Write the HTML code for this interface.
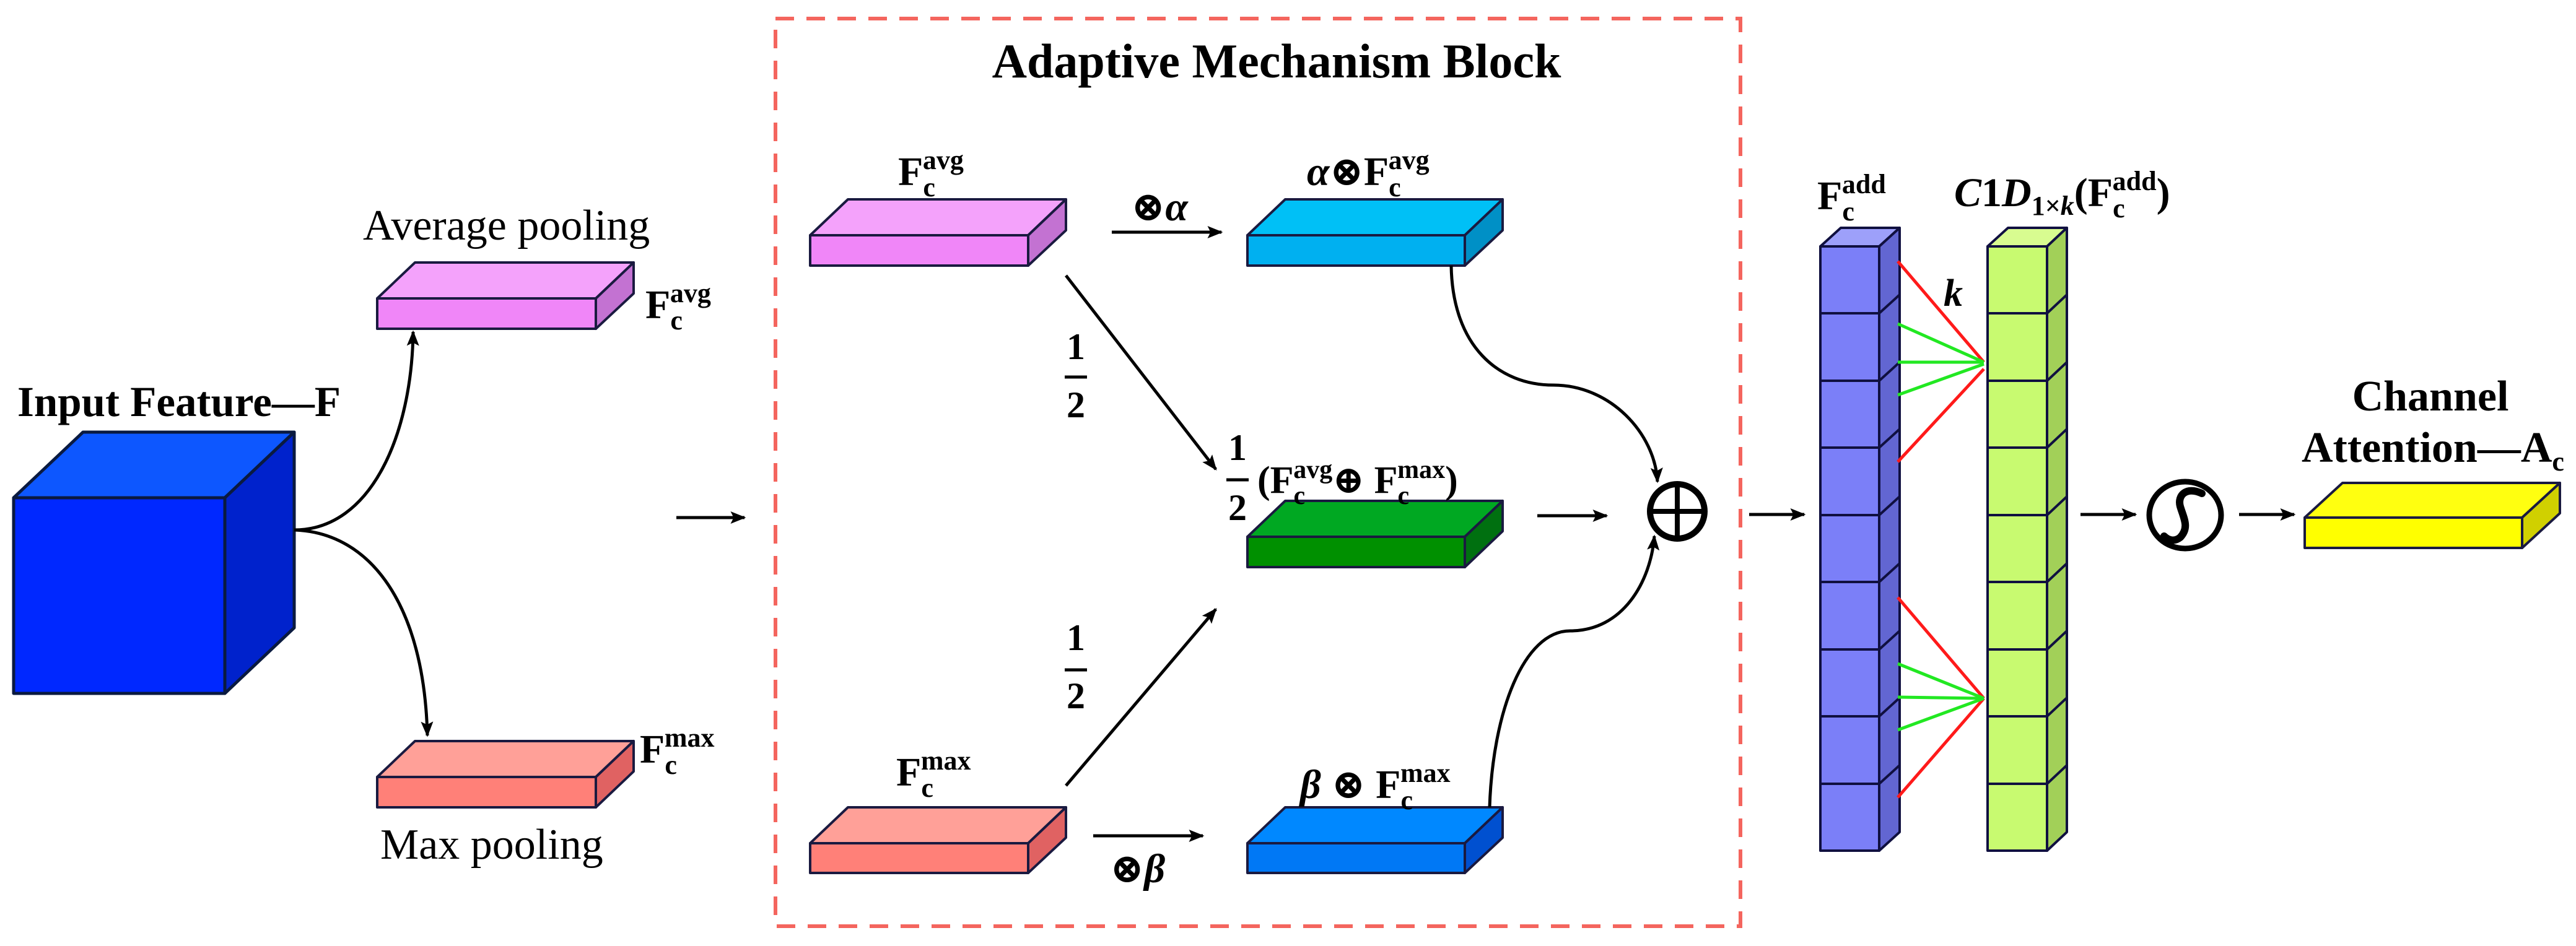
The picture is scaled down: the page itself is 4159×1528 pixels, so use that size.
<!DOCTYPE html>
<html><head><meta charset="utf-8"><style>
html,body{margin:0;padding:0;background:#fff;}
svg{display:block;}
text{font-family:"Liberation Serif","DejaVu Serif",serif;fill:#000;}
.b{font-weight:bold;}
</style></head><body>
<svg width="4159" height="1528" viewBox="0 0 4159 1528" xmlns="http://www.w3.org/2000/svg">
<defs>
<marker id="ah" viewBox="0 0 10 10" refX="9" refY="5" markerWidth="5" markerHeight="5" orient="auto" markerUnits="strokeWidth"><path d="M0,1 L10,5 L0,9 L2,5 z" fill="#000"/></marker>
</defs>

<rect x="1252" y="30" width="1558" height="1466" fill="none" stroke="#f4655e" stroke-width="6" stroke-dasharray="30,20"/>

<!-- Big cube -->
<g stroke="#0a1a40" stroke-width="5" stroke-linejoin="round">
<polygon points="22,804 134,698 475,698 363,804" fill="#0d57ff"/>
<polygon points="363,804 475,698 475,1014 363,1120" fill="#0022cc"/>
<rect x="22" y="804" width="341" height="316" fill="#0028ff"/>
</g>
<text x="28" y="672" class="b" font-size="69">Input Feature—F</text>

<!-- avg pool -->
<g stroke="#1a1a40" stroke-width="4" stroke-linejoin="round">
<polygon points="609,482 670,424 1023,424 962,482" fill="#f4a2fb"/>
<polygon points="962,482 1023,424 1023,474 962,531" fill="#c372d2"/>
<rect x="609" y="482" width="353" height="49" fill="#f086f8"/>
</g>
<text x="586" y="387" font-size="70">Average pooling</text>
<text x="1042" y="514" class="b" font-size="66">F<tspan font-size="44" dy="18">c</tspan><tspan font-size="44" dx="-20" dy="-44">avg</tspan></text>

<!-- max pool -->
<g stroke="#1a1a40" stroke-width="4" stroke-linejoin="round">
<polygon points="609,1255 670,1197 1023,1197 962,1255" fill="#ffa098"/>
<polygon points="962,1255 1023,1197 1023,1246 962,1304" fill="#e06262"/>
<rect x="609" y="1255" width="353" height="49" fill="#ff8078"/>
</g>
<text x="614" y="1387" font-size="70">Max pooling</text>
<text x="1033" y="1232" class="b" font-size="66">F<tspan font-size="44" dy="18">c</tspan><tspan font-size="44" dx="-20" dy="-44">max</tspan></text>

<path d="M475,856 C600,856 665,700 667,536" fill="none" stroke="#000" stroke-width="5" marker-end="url(#ah)"/>
<path d="M475,856 C600,860 685,980 690,1188" fill="none" stroke="#000" stroke-width="5" marker-end="url(#ah)"/>
<line x1="1092" y1="836" x2="1202" y2="836" stroke="#000" stroke-width="5" marker-end="url(#ah)"/>

<text x="2061" y="125" class="b" font-size="78" text-anchor="middle">Adaptive Mechanism Block</text>

<!-- pink -->
<g stroke="#1a1a40" stroke-width="4" stroke-linejoin="round">
<polygon points="1308,380 1369,322 1721,322 1660,380" fill="#f4a2fb"/>
<polygon points="1660,380 1721,322 1721,372 1660,429" fill="#c372d2"/>
<rect x="1308" y="380" width="352" height="49" fill="#f086f8"/>
</g>
<text x="1450" y="299" class="b" font-size="66">F<tspan font-size="44" dy="18">c</tspan><tspan font-size="44" dx="-20" dy="-44">avg</tspan></text>

<!-- salmon -->
<g stroke="#1a1a40" stroke-width="4" stroke-linejoin="round">
<polygon points="1308,1362 1369,1304 1721,1304 1660,1362" fill="#ffa098"/>
<polygon points="1660,1362 1721,1304 1721,1353 1660,1410" fill="#e06262"/>
<rect x="1308" y="1362" width="352" height="48" fill="#ff8078"/>
</g>
<text x="1447" y="1269" class="b" font-size="66">F<tspan font-size="44" dy="18">c</tspan><tspan font-size="44" dx="-20" dy="-44">max</tspan></text>

<!-- cyan -->
<g stroke="#1a1a40" stroke-width="4" stroke-linejoin="round">
<polygon points="2014,380 2075,322 2426,322 2365,380" fill="#00c0f6"/>
<polygon points="2365,380 2426,322 2426,372 2365,429" fill="#0090c6"/>
<rect x="2014" y="380" width="351" height="49" fill="#00b0f0"/>
</g>
<text x="2110" y="299" class="b" font-size="66"><tspan font-style="italic">α</tspan>⊗F<tspan font-size="44" dy="18">c</tspan><tspan font-size="44" dx="-20" dy="-44">avg</tspan></text>

<!-- green -->
<g stroke="#1a1a40" stroke-width="4" stroke-linejoin="round">
<polygon points="2014,867 2075,809 2426,809 2365,867" fill="#00a822"/>
<polygon points="2365,867 2426,809 2426,858 2365,916" fill="#007010"/>
<rect x="2014" y="867" width="351" height="49" fill="#009000"/>
</g>
<text x="1998" y="743" class="b" font-size="60" text-anchor="middle">1</text>
<line x1="1980" y1="775" x2="2016" y2="775" stroke="#000" stroke-width="5"/>
<text x="1998" y="840" class="b" font-size="60" text-anchor="middle">2</text>
<text x="2030" y="796" class="b" font-size="62">(F<tspan font-size="42" dy="18">c</tspan><tspan font-size="42" dx="-19" dy="-42">avg</tspan><tspan dy="24">⊕ F</tspan><tspan font-size="42" dy="18">c</tspan><tspan font-size="42" dx="-19" dy="-42">max</tspan><tspan dy="24">)</tspan></text>

<!-- blue -->
<g stroke="#1a1a40" stroke-width="4" stroke-linejoin="round">
<polygon points="2014,1362 2075,1304 2426,1304 2365,1362" fill="#0088ff"/>
<polygon points="2365,1362 2426,1304 2426,1353 2365,1410" fill="#0050d0"/>
<rect x="2014" y="1362" width="351" height="48" fill="#0078f5"/>
</g>
<text x="2099" y="1289" class="b" font-size="66"><tspan font-style="italic">β</tspan> ⊗ F<tspan font-size="44" dy="18">c</tspan><tspan font-size="44" dx="-20" dy="-44">max</tspan></text>

<line x1="1795" y1="375" x2="1972" y2="375" stroke="#000" stroke-width="5" marker-end="url(#ah)"/>
<text x="1826" y="356" class="b" font-size="66">⊗<tspan font-style="italic">α</tspan></text>
<line x1="1765" y1="1350" x2="1942" y2="1350" stroke="#000" stroke-width="5" marker-end="url(#ah)"/>
<text x="1792" y="1425" class="b" font-size="66">⊗<tspan font-style="italic">β</tspan></text>
<line x1="1721" y1="445" x2="1963" y2="758" stroke="#000" stroke-width="5" marker-end="url(#ah)"/>
<line x1="1721" y1="1269" x2="1963" y2="984" stroke="#000" stroke-width="5" marker-end="url(#ah)"/>
<text x="1737" y="580" class="b" font-size="60" text-anchor="middle">1</text>
<line x1="1719" y1="609" x2="1755" y2="609" stroke="#000" stroke-width="5"/>
<text x="1737" y="674" class="b" font-size="60" text-anchor="middle">2</text>
<text x="1737" y="1050" class="b" font-size="60" text-anchor="middle">1</text>
<line x1="1719" y1="1082" x2="1755" y2="1082" stroke="#000" stroke-width="5"/>
<text x="1737" y="1144" class="b" font-size="60" text-anchor="middle">2</text>

<line x1="2482" y1="833" x2="2594" y2="833" stroke="#000" stroke-width="5" marker-end="url(#ah)"/>
<path d="M2343,429 C2345,560 2420,622 2508,622 C2600,622 2672,700 2676,778" fill="none" stroke="#000" stroke-width="5" marker-end="url(#ah)"/>
<path d="M2405,1304 C2410,1150 2460,1019 2535,1019 C2620,1019 2665,940 2671,866" fill="none" stroke="#000" stroke-width="5" marker-end="url(#ah)"/>
<ellipse cx="2708" cy="826" rx="44" ry="44" fill="none" stroke="#000" stroke-width="10"/>
<line x1="2664" y1="826" x2="2752" y2="826" stroke="#000" stroke-width="8"/>
<line x1="2708" y1="782" x2="2708" y2="870" stroke="#000" stroke-width="8"/>

<line x1="2824" y1="831" x2="2913" y2="831" stroke="#000" stroke-width="5" marker-end="url(#ah)"/>

<!-- left column -->
<g stroke="#101040" stroke-width="4" stroke-linejoin="round">
<polygon points="2939,398 2972,368 3067,368 3034,398" fill="#9da0fa"/>
<polygon points="3034,398 3067,368 3067,1344 3034,1374" fill="#6266d2"/>
<rect x="2939" y="398" width="95" height="976" fill="#7b7ff8"/>
<path d="M2939,506 H3034 L3067,476 M2939,615 H3034 L3067,585 M2939,723 H3034 L3067,693 M2939,832 H3034 L3067,802 M2939,940 H3034 L3067,910 M2939,1049 H3034 L3067,1019 M2939,1157 H3034 L3067,1127 M2939,1266 H3034 L3067,1236" fill="none"/>
</g>
<text x="2934" y="338" class="b" font-size="66">F<tspan font-size="44" dy="18">c</tspan><tspan font-size="44" dx="-20" dy="-44">add</tspan></text>

<!-- right column -->
<g stroke="#101040" stroke-width="4" stroke-linejoin="round">
<polygon points="3209,398 3242,368 3337,368 3305,398" fill="#d8fc90"/>
<polygon points="3305,398 3337,368 3337,1344 3305,1374" fill="#a2d058"/>
<rect x="3209" y="398" width="96" height="976" fill="#c8fa70"/>
<path d="M3209,506 H3305 L3337,476 M3209,615 H3305 L3337,585 M3209,723 H3305 L3337,693 M3209,832 H3305 L3337,802 M3209,940 H3305 L3337,910 M3209,1049 H3305 L3337,1019 M3209,1157 H3305 L3337,1127 M3209,1266 H3305 L3337,1236" fill="none"/>
</g>
<text x="3155" y="333" class="b" font-size="66"><tspan font-style="italic">C</tspan>1<tspan font-style="italic">D</tspan><tspan font-size="44" dy="14">1×<tspan font-style="italic">k</tspan></tspan><tspan dy="-14">(F</tspan><tspan font-size="44" dy="18">c</tspan><tspan font-size="44" dx="-20" dy="-44">add</tspan><tspan dy="26">)</tspan></text>
<text x="3138" y="494" class="b" font-size="62" font-style="italic">k</text>

<g stroke-width="5" fill="none">
<line x1="3064" y1="422" x2="3203" y2="585" stroke="#ff1a1a"/>
<line x1="3064" y1="746" x2="3203" y2="596" stroke="#ff1a1a"/>
<line x1="3064" y1="523" x2="3203" y2="585" stroke="#22e822"/>
<line x1="3064" y1="585" x2="3203" y2="585" stroke="#22e822"/>
<line x1="3064" y1="638" x2="3203" y2="588" stroke="#22e822"/>
<line x1="3064" y1="965" x2="3203" y2="1128" stroke="#ff1a1a"/>
<line x1="3064" y1="1288" x2="3203" y2="1128" stroke="#ff1a1a"/>
<line x1="3064" y1="1072" x2="3203" y2="1128" stroke="#22e822"/>
<line x1="3064" y1="1126" x2="3203" y2="1128" stroke="#22e822"/>
<line x1="3064" y1="1179" x2="3203" y2="1128" stroke="#22e822"/>
</g>

<line x1="3359" y1="831" x2="3448" y2="831" stroke="#000" stroke-width="5" marker-end="url(#ah)"/>
<ellipse cx="3528" cy="832" rx="58" ry="54" fill="none" stroke="#000" stroke-width="9"/>
<path d="M3555,797 C3530,785 3515,800 3520,818 C3526,838 3535,852 3520,868 C3510,876 3500,872 3494,866" fill="none" stroke="#000" stroke-width="12" stroke-linecap="round"/>
<line x1="3615" y1="831" x2="3704" y2="831" stroke="#000" stroke-width="5" marker-end="url(#ah)"/>

<g stroke="#1a1a40" stroke-width="4" stroke-linejoin="round">
<polygon points="3721,836 3782,780 4133,780 4072,836" fill="#ffff10"/>
<polygon points="4072,836 4133,780 4133,829 4072,885" fill="#d0d000"/>
<rect x="3721" y="836" width="351" height="49" fill="#ffff00"/>
</g>
<text x="3924" y="663" class="b" font-size="70" text-anchor="middle">Channel</text>
<text x="3716" y="746" class="b" font-size="70">Attention—A<tspan font-size="44" dy="14">c</tspan></text>
</svg>
</body></html>
